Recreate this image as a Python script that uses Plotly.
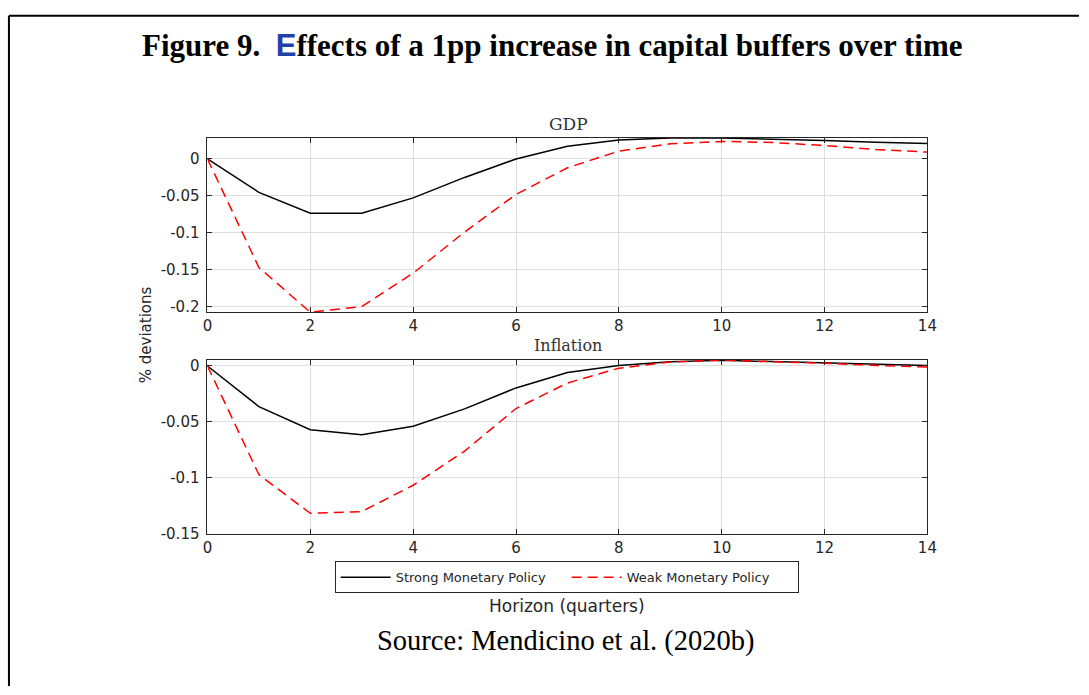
import plotly.graph_objects as go

# Impulse responses to a 1pp capital-buffer increase, quarters 0..14
horizon = list(range(15))

gdp_strong = [0.0, -0.0452, -0.0735, -0.0735, -0.0527, -0.0250, 0.0000, 0.0173,
              0.0258, 0.0285, 0.0283, 0.0270, 0.0249, 0.0225, 0.0210]
gdp_weak = [0.0, -0.1470, -0.2077, -0.2000, -0.1547, -0.0990, -0.0480, -0.0120,
            0.0106, 0.0205, 0.0238, 0.0222, 0.0182, 0.0129, 0.0093]

infl_strong = [0.0, -0.0363, -0.0570, -0.0614, -0.0538, -0.0383, -0.0196, -0.0059,
               0.0005, 0.0038, 0.0050, 0.0040, 0.0029, 0.0014, 0.0005]
infl_weak = [0.0, -0.0970, -0.1316, -0.1300, -0.1065, -0.0760, -0.0380, -0.0152,
             -0.0020, 0.0035, 0.0052, 0.0040, 0.0025, 0.0005, -0.0009]

x_ticks = [0, 2, 4, 6, 8, 10, 12, 14]
gdp_ticks = [0, -0.05, -0.1, -0.15, -0.2]
gdp_tick_text = ["0", "-0.05", "-0.1", "-0.15", "-0.2"]
infl_ticks = [0, -0.05, -0.1, -0.15]
infl_tick_text = ["0", "-0.05", "-0.1", "-0.15"]

W, H = 1089, 695
AX = "#262626"
GRID = "#dedede"
TICK_FONT = dict(family="DejaVu Sans", size=15, color=AX)

fig = go.Figure()

fig.add_trace(go.Scatter(x=horizon, y=gdp_strong, mode="lines", name="Strong Monetary Policy",
                         line=dict(color="#000000", width=1.5), xaxis="x", yaxis="y"))
fig.add_trace(go.Scatter(x=horizon, y=gdp_weak, mode="lines", name="Weak Monetary Policy",
                         line=dict(color="#ff0000", width=1.5, dash="10px,6px"), xaxis="x", yaxis="y"))
fig.add_trace(go.Scatter(x=horizon, y=infl_strong, mode="lines", showlegend=False,
                         line=dict(color="#000000", width=1.5), xaxis="x2", yaxis="y2"))
fig.add_trace(go.Scatter(x=horizon, y=infl_weak, mode="lines", showlegend=False,
                         line=dict(color="#ff0000", width=1.5, dash="10px,6px"), xaxis="x2", yaxis="y2"))

x_dom = [205.3 / W, 935.3 / W]


def ydom(top_px, bottom_px):
    return [1 - bottom_px / H, 1 - top_px / H]


common_x = dict(domain=x_dom, range=[0, 14], tickvals=x_ticks, ticktext=[str(v) for v in x_ticks],
                showgrid=True, gridcolor=GRID, gridwidth=1, zeroline=False,
                showline=True, linecolor=AX, linewidth=1, mirror="allticks",
                ticks="inside", ticklen=5, tickcolor=AX, tickfont=TICK_FONT)
common_y = dict(showgrid=True, gridcolor=GRID, gridwidth=1, zeroline=False,
                showline=True, linecolor=AX, linewidth=1, mirror="allticks",
                ticks="inside", ticklen=5, tickcolor=AX, tickfont=TICK_FONT,
                ticklabelstandoff=4)

fig.update_layout(
    width=W, height=H,
    margin=dict(l=0, r=0, t=0, b=0),
    paper_bgcolor="white", plot_bgcolor="white",
    xaxis=dict(anchor="y", **common_x),
    yaxis=dict(anchor="x", domain=ydom(137.3, 314.7), range=[-0.2077, 0.0285],
               tickvals=gdp_ticks, ticktext=gdp_tick_text, **common_y),
    xaxis2=dict(anchor="y2", **common_x),
    yaxis2=dict(anchor="x2", domain=ydom(363.3, 540.3), range=[-0.15, 0.0053],
                tickvals=infl_ticks, ticktext=infl_tick_text, **common_y),
    legend=dict(orientation="h", x=569.5 / W, xanchor="center", y=1 - 568 / H, yanchor="top",
                bgcolor="white", bordercolor=AX, borderwidth=1,
                font=dict(family="DejaVu Sans", size=13, color=AX),
                entrywidth=166, entrywidthmode="pixels", tracegroupgap=0,
                itemwidth=50),
    showlegend=True,
)

annotations = [
    dict(text="<b>Figure 9.  <span style='font-family:Liberation Sans;color:#1f40a8'>E</span>ffects of a 1pp increase in capital buffers over time</b>",
         x=555 / W, y=1 - 43 / H, font=dict(family="Liberation Serif", size=31, color="#000000")),
    dict(text="GDP", x=571 / W, y=1 - 123 / H, font=dict(family="DejaVu Serif", size=17, color="#333333")),
    dict(text="Inflation", x=571 / W, y=1 - 349 / H, font=dict(family="DejaVu Serif", size=16, color="#333333")),
    dict(text="% deviations", x=143 / W, y=1 - 338 / H, textangle=-90,
         font=dict(family="DejaVu Sans", size=15, color=AX)),
    dict(text="Horizon (quarters)", x=570 / W, y=1 - 614 / H,
         font=dict(family="DejaVu Sans", size=17, color=AX)),
    dict(text="Source: Mendicino et al. (2020b)", x=569 / W, y=1 - 649 / H,
         font=dict(family="Liberation Serif", size=28.5, color="#000000")),
]
for a in annotations:
    fig.add_annotation(xref="paper", yref="paper", showarrow=False,
                       xanchor="center", yanchor="middle", **a)

# Page frame: top and left rules
fig.add_shape(type="line", xref="paper", yref="paper", x0=4 / W, x1=1.0, y0=1 - 13 / H, y1=1 - 13 / H,
              line=dict(color="#000000", width=2))
fig.add_shape(type="line", xref="paper", yref="paper", x0=4 / W, x1=4 / W, y0=0, y1=1 - 13 / H,
              line=dict(color="#000000", width=2))

fig.write_html("out.html")
